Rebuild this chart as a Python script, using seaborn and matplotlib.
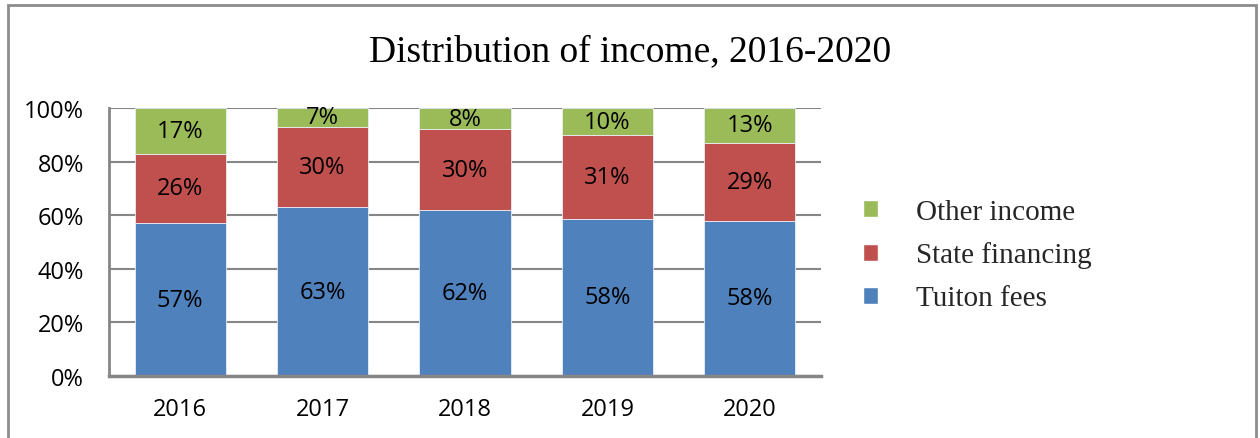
import matplotlib
matplotlib.use("Agg")
import matplotlib.pyplot as plt
from matplotlib.patches import Patch, Rectangle
import numpy as np
import pandas as pd
import seaborn as sns

years = ["2016", "2017", "2018", "2019", "2020"]
tuition = [57, 63, 62, 58, 58]
state = [26, 30, 30, 31, 29]
other = [17, 7, 8, 10, 13]
series_names = ["Tuiton fees", "State financing", "Other income"]
colors = ["#4F81BD", "#C0504D", "#9BBB59"]
yticks = [0, 20, 40, 60, 80, 100]
ytick_labels = ["0%", "20%", "40%", "60%", "80%", "100%"]
title = "Distribution of income, 2016-2020"

sns.set_theme(style="white")
plt.rcParams["font.family"] = ["Open Sans", "DejaVu Sans"]

fig = plt.figure(figsize=(12.6, 4.39), dpi=100)
ax = fig.add_axes([109 / 1260, 62 / 439, 712 / 1260, 268 / 439])

vals = np.array([tuition, state, other], dtype=float)
totals = vals.sum(axis=0)
norm = vals / totals * 100

bottom = np.zeros(len(years))
for i, name in enumerate(series_names):
    df = pd.DataFrame({"year": years, "value": norm[i]})
    sns.barplot(data=df, x="year", y="value", order=years, color=colors[i],
                bottom=bottom.copy(), width=0.64, ax=ax, saturation=1,
                edgecolor="#e8eef6", linewidth=0.6, errorbar=None)
    cont = ax.containers[-1]
    ax.bar_label(cont, labels=[f"{int(v)}%" for v in vals[i]], label_type="center",
                 fontsize=17, color="black", family=["Open Sans", "DejaVu Sans"])
    bottom += norm[i]

ax.set_xlim(-0.5, 4.5)
ax.set_ylim(0, 100)
ax.set_yticks(yticks)
ax.set_yticklabels(ytick_labels)
ax.set_xlabel("")
ax.set_ylabel("")
ax.yaxis.grid(True, color="#868686", linewidth=1.5)
ax.set_axisbelow(True)
for s in ["top", "right"]:
    ax.spines[s].set_visible(False)
ax.spines["left"].set_color("#868686")
ax.spines["left"].set_linewidth(2)
ax.spines["bottom"].set_color("#868686")
ax.spines["bottom"].set_linewidth(2.5)
ax.tick_params(axis="y", length=0, pad=18, labelsize=17, colors="black")
ax.tick_params(axis="x", length=0, pad=15, labelsize=17, colors="black")

fig.text(0.5, 1 - 52 / 439, title, ha="center", va="center", fontsize=27,
         family=["Liberation Serif", "DejaVu Serif"], color="black")

handles = [Patch(facecolor=colors[2]), Patch(facecolor=colors[1]), Patch(facecolor=colors[0])]
labels = [series_names[2], series_names[1], series_names[0]]
leg = fig.legend(handles, labels, loc="center left", bbox_to_anchor=(863 / 1260, 1 - 256 / 439),
                 frameon=False, prop={"family": ["Liberation Serif", "DejaVu Serif"], "size": 21},
                 handlelength=0.52, handleheight=0.52, handletextpad=1.3, labelspacing=0.58,
                 borderpad=0, borderaxespad=0)

border = Rectangle((8 / 1260, -0.1), (1256 - 8) / 1260, 1.1 - 6 / 439, transform=fig.transFigure,
                   fill=False, edgecolor="#8c8c8c", linewidth=2, clip_on=False)
fig.patches.append(border)

fig.savefig("out.png", dpi=100)
